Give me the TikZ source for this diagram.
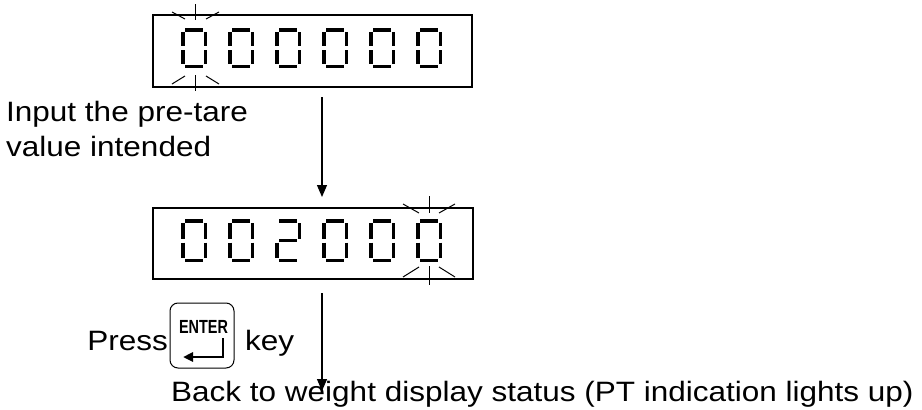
\documentclass[tikz,border=0pt]{standalone}
\usepackage{fontspec}
\setmainfont{Liberation Sans}
\usetikzlibrary{arrows.meta}
\tikzset{
  dispbox/.style={draw, line width=2pt, rectangle, inner sep=0pt},
  segline/.style={line width=3.5pt, line cap=butt},
  rayline/.style={line width=1pt},
  flowarrow/.style={line width=1.3pt, -{Triangle[length=12pt,width=10pt]}},
  lbl/.style={inner sep=0pt, anchor=base west, font=\fontsize{28}{36}\selectfont},
  keybox/.style={draw, line width=1pt, rounded corners=8pt, inner sep=0pt, minimum width=64pt, minimum height=65pt}
}
\newcommand{\wide}[1]{\scalebox{1.125}[1]{#1}}
% digit helpers: #1=x left, #2=y top, #3=height
\newcommand{\segA}[3]{\draw[segline] (#1+4,#2+1.75) -- (#1+22,#2+1.75);}
\newcommand{\segB}[3]{\draw[segline] (#1+24.25,#2+4) -- (#1+24.25,#2+#3/2-2);}
\newcommand{\segC}[3]{\draw[segline] (#1+24.25,#2+#3/2+2) -- (#1+24.25,#2+#3-4);}
\newcommand{\segD}[3]{\draw[segline] (#1+4,#2+#3-1.75) -- (#1+22,#2+#3-1.75);}
\newcommand{\segE}[3]{\draw[segline] (#1+1.75,#2+#3/2+2) -- (#1+1.75,#2+#3-4);}
\newcommand{\segF}[3]{\draw[segline] (#1+1.75,#2+4) -- (#1+1.75,#2+#3/2-2);}
\newcommand{\segG}[3]{\draw[segline] (#1+4,#2+#3/2) -- (#1+22,#2+#3/2);}
\newcommand{\digZero}[3]{\segA{#1}{#2}{#3}\segB{#1}{#2}{#3}\segC{#1}{#2}{#3}\segD{#1}{#2}{#3}\segE{#1}{#2}{#3}\segF{#1}{#2}{#3}}
\newcommand{\digTwo}[3]{\segA{#1}{#2}{#3}\segB{#1}{#2}{#3}\segG{#1}{#2}{#3}\segE{#1}{#2}{#3}\segD{#1}{#2}{#3}}
\begin{document}
\begin{tikzpicture}[x=1pt,y=-1pt]
\useasboundingbox (0,0) rectangle (922,410);
% display boxes
\node[dispbox, minimum width=319pt, minimum height=72pt] (d1) at (312.5,51) {};
\node[dispbox, minimum width=320pt, minimum height=71pt] (d2) at (313,243.5) {};
% top display digits 000000
\foreach \i in {0,...,5} { \digZero{181+47*\i}{28}{40} }
% bottom display digits 002000
\digZero{181}{219}{43}
\digZero{228}{219}{43}
\digTwo{275}{219}{43}
\digZero{322}{219}{43}
\digZero{369}{219}{43}
\digZero{416}{219}{43}
% blink rays top display first digit
\draw[rayline] (195,4) -- (195,20);
\draw[rayline] (172,12) -- (185,19);
\draw[rayline] (219,12) -- (206,19);
\draw[rayline] (195,75) -- (195,91);
\draw[rayline] (172,84) -- (185,76);
\draw[rayline] (219,84) -- (206,76);
% blink rays bottom display last digit
\draw[rayline] (429,196) -- (429,213);
\draw[rayline] (403,204) -- (419,213);
\draw[rayline] (455,204) -- (439,213);
\draw[rayline] (429,266) -- (429,285);
\draw[rayline] (403,277) -- (419,267);
\draw[rayline] (455,277) -- (439,267);
% arrows
\coordinate (a1s) at (322,97);
\coordinate (a1e) at (322,197);
\coordinate (a2s) at (322,293);
\coordinate (a2e) at (322,391);
\draw[flowarrow] (a1s) -- (a1e);
\draw[flowarrow] (a2s) -- (a2e);
% labels
\node[lbl] (t1) at (6,121) {\wide{Input the pre-tare}};
\node[lbl] (t2) at (6,156) {\wide{value intended}};
\node[lbl, anchor=base east] (press) at (168,350) {\wide{Press}};
\node[keybox] (key) at (202,335.5) {};
\node[inner sep=0pt, anchor=base, font=\bfseries\fontsize{19}{19}\selectfont] (ent) at (203.5,333) {\scalebox{0.76}[1]{ENTER}};
\coordinate (r1) at (223,338);
\coordinate (r2) at (223,357);
\coordinate (r3) at (183,357);
\draw[line width=2.5pt, -{Triangle[length=10pt,width=9pt]}] (r1) -- (r2) -- (r3);
\node[lbl] (keyw) at (245,350) {\wide{key}};
\node[lbl] (back) at (171,401) {\wide{Back to weight display status (PT indication lights up)}};
\end{tikzpicture}
\end{document}
